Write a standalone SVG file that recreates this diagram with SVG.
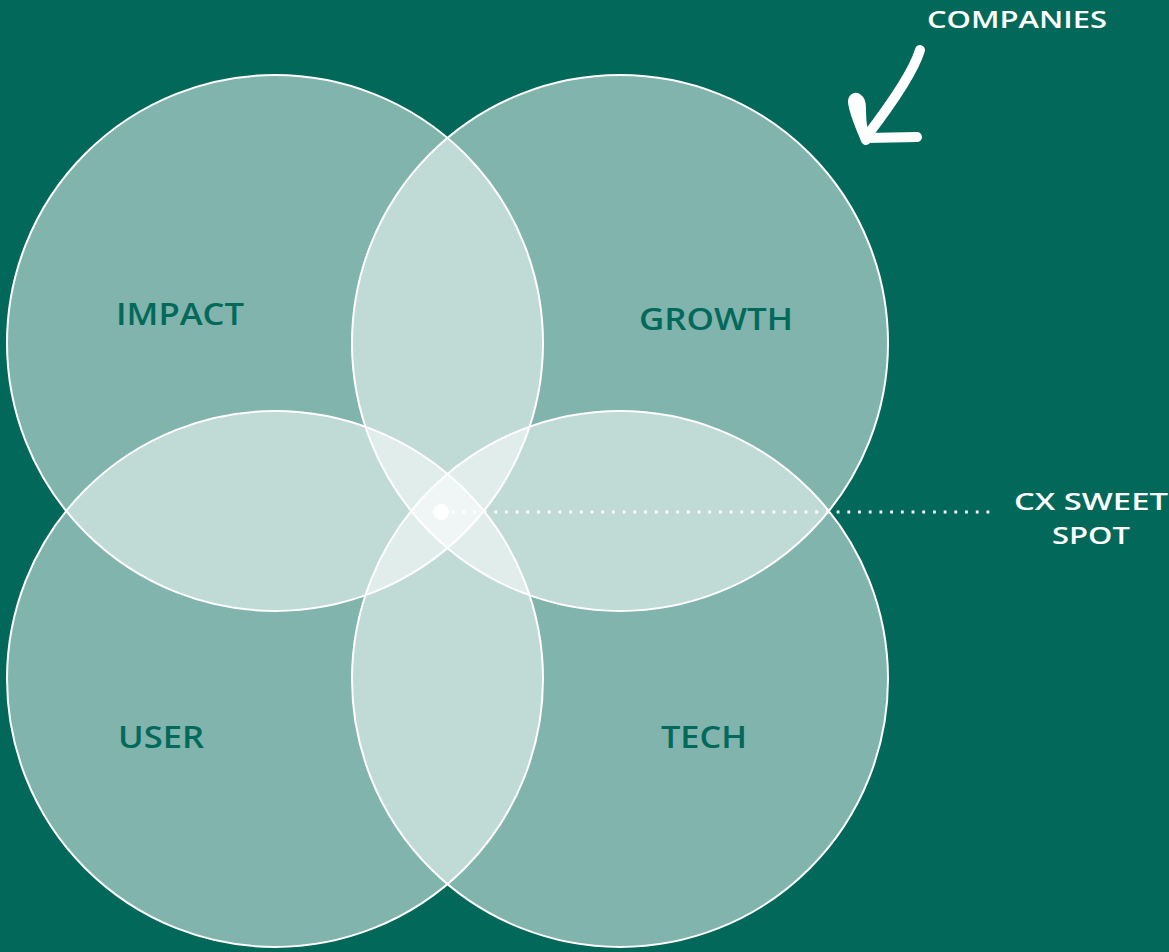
<svg xmlns="http://www.w3.org/2000/svg" width="1169" height="952" viewBox="0 0 1169 952">
  <style>
    .set { fill: #ffffff; fill-opacity: 0.5; stroke: #ffffff; stroke-width: 2; }
    .lbl { font-family: "Open Sans", "Liberation Sans", sans-serif; font-weight: 600; font-size: 30px; fill: #03695A; }
    .note { font-family: "Open Sans", "Liberation Sans", sans-serif; font-weight: 600; font-size: 24px; fill: #ffffff; }
    .dots { stroke: #ffffff; stroke-width: 2.8; stroke-dasharray: 2.8 7.9; fill: none; }
    .hand { stroke: #ffffff; stroke-width: 10; fill: none; stroke-linecap: round; stroke-linejoin: round; }
  </style>
  <rect width="1169" height="952" fill="#02685A"/>
  <g id="node-impact">
    <circle class="set" cx="275" cy="343" r="268"/>
  </g>
  <g id="node-growth">
    <circle class="set" cx="620" cy="343" r="268"/>
  </g>
  <g id="node-user">
    <circle class="set" cx="275" cy="679" r="268"/>
  </g>
  <g id="node-tech">
    <circle class="set" cx="620" cy="679" r="268"/>
  </g>
  <g id="labels">
    <text class="lbl" x="116" y="325" textLength="128" lengthAdjust="spacingAndGlyphs">IMPACT</text>
    <text class="lbl" x="639" y="330" textLength="154" lengthAdjust="spacingAndGlyphs">GROWTH</text>
    <text class="lbl" x="118" y="748" textLength="86" lengthAdjust="spacingAndGlyphs">USER</text>
    <text class="lbl" x="661" y="748" textLength="86" lengthAdjust="spacingAndGlyphs">TECH</text>
  </g>
  <g id="connectors">
    <line class="dots" x1="451.5" y1="512" x2="995" y2="512"/>
    <circle cx="441" cy="512" r="8" fill="#ffffff"/>
    <path class="hand" d="M920,50 C914,70 896,98 866,137"/>
    <path class="hand" d="M866,140 C860,126 853,110 853,101 C854,95 861,98 861,108 C861,120 862,132 866,138 L917,137"/>
  </g>
  <g id="callout-companies">
    <text class="note" x="927" y="27.5" textLength="180" lengthAdjust="spacingAndGlyphs">COMPANIES</text>
  </g>
  <g id="callout-sweetspot">
    <text class="note" x="1014" y="510" textLength="154" lengthAdjust="spacingAndGlyphs">CX SWEET</text>
    <text class="note" x="1052" y="544" textLength="78" lengthAdjust="spacingAndGlyphs">SPOT</text>
  </g>
</svg>
